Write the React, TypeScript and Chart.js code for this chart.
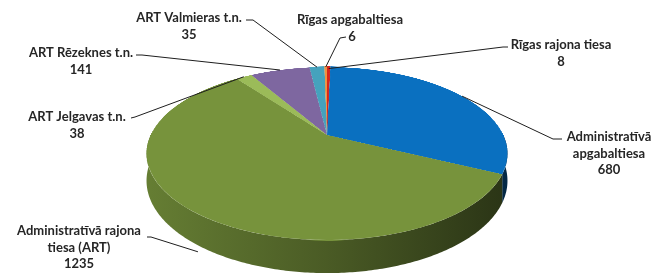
import React, { useEffect, useRef } from "react";
import { Chart, registerables } from "chart.js";

Chart.register(...registerables);

const categories = [
  "Rīgas rajona tiesa",
  "Administratīvā apgabaltiesa",
  "Administratīvā rajona tiesa (ART)",
  "ART Jelgavas t.n.",
  "ART Rēzeknes t.n.",
  "ART Valmieras t.n.",
  "Rīgas apgabaltiesa",
];
const values = [8, 680, 1235, 38, 141, 35, 6];
const labelLines = [
  ["Rīgas rajona tiesa"],
  ["Administratīvā", "apgabaltiesa"],
  ["Administratīvā rajona", "tiesa (ART)"],
  ["ART Jelgavas t.n."],
  ["ART Rēzeknes t.n."],
  ["ART Valmieras t.n."],
  ["Rīgas apgabaltiesa"],
];
const colors = ["#D8241C", "#0A70C0", "#77933C", "#9BBB59", "#7E67A0", "#45A2BD", "#F0913E"];

// label layout: text centre x, first line y, line start (text side), elbow, anchor factor, anchor drop
const labelPos = [
  { x: 561, y: 45, sx: 508, sy: 47, ex: 503, ey: 47, f: 0.99, drop: 1 },
  { x: 609, y: 137, sx: 562, sy: 139, ex: 553, ey: 139, f: 1.0, drop: 0 },
  { x: 79, y: 231, sx: 147, sy: 237, ex: 151, ey: 237, f: 0.97, drop: 43 },
  { x: 77, y: 117, sx: 131, sy: 118, ex: 135, ey: 117, f: 1.0, drop: 0 },
  { x: 81, y: 53, sx: 136, sy: 55, ex: 142, ey: 55, f: 1.0, drop: 0 },
  { x: 189, y: 18, sx: 246, sy: 20, ex: 253, ey: 20, f: 1.0, drop: 0 },
  { x: 350, y: 20, sx: 346, sy: 37, ex: 340, ey: 38, f: 1.0, drop: 0 },
];

// perspective projection of the pie plane
const CX = 327;
const PP = 0.2139;
const PA = 53.67;
const PB = 135;
const RX0 = 176.3;
const D0 = 26;

function proj(u: number, v: number) {
  const d = 1 - PP * v;
  return { X: CX + (RX0 * u) / d, Y: (PA * v + PB) / d };
}
function invY(Y: number) {
  return (Y - PB) / (PA + PP * Y);
}

function shade(hex: string, k: number) {
  const n = parseInt(hex.slice(1), 16);
  const r = Math.round(((n >> 16) & 255) * k);
  const g = Math.round(((n >> 8) & 255) * k);
  const b = Math.round((n & 255) * k);
  return `rgb(${r},${g},${b})`;
}

const pie3d = {
  id: "pie3d",
  beforeDatasetsDraw(chart: any) {
    const meta = chart.getDatasetMeta(0);
    const ctx = chart.ctx;
    const first = meta.data[0];
    const x = first.x, y = first.y, R = first.outerRadius;

    // walls
    ctx.save();
    meta.data.forEach((arc: any, i: number) => {
      const s = Math.max(arc.startAngle, 0);
      const e = Math.min(arc.endAngle, Math.PI);
      if (e <= s) return;
      const L = proj(-1, 0).X, Rr = proj(1, 0).X;
      const grad = ctx.createLinearGradient(L, 0, Rr, 0);
      grad.addColorStop(0, shade(colors[i], 0.85));
      grad.addColorStop(0.5, shade(colors[i], 0.62));
      grad.addColorStop(1, shade(colors[i], 0.36));
      const n = Math.max(4, Math.ceil((e - s) * 80));
      ctx.beginPath();
      for (let k = 0; k <= n; k++) {
        const t = s + ((e - s) * k) / n;
        const p = proj(Math.cos(t), Math.sin(t));
        if (k === 0) ctx.moveTo(p.X, p.Y);
        else ctx.lineTo(p.X, p.Y);
      }
      for (let k = n; k >= 0; k--) {
        const t = s + ((e - s) * k) / n;
        const v = Math.sin(t);
        const p = proj(Math.cos(t), v);
        ctx.lineTo(p.X, p.Y + D0 / (1 - PP * v));
      }
      ctx.closePath();
      ctx.fillStyle = grad;
      ctx.fill();
    });
    ctx.restore();

    // top face: render arcs flat offscreen, then warp row by row
    const K = 2;
    const off = document.createElement("canvas");
    off.width = Math.ceil(2 * R * K);
    off.height = Math.ceil(2 * R * K);
    const oc = off.getContext("2d")!;
    oc.setTransform(K, 0, 0, K, 0, 0);
    oc.translate(R - x, R - y);
    meta.data.forEach((arc: any) => arc.draw(oc));

    ctx.save();
    ctx.imageSmoothingEnabled = true;
    const yTop = Math.floor(proj(0, -1).Y);
    const yBot = Math.ceil(proj(0, 1).Y);
    for (let Y = yTop; Y < yBot; Y++) {
      let v0 = invY(Y), v1 = invY(Y + 1);
      v0 = Math.max(-1, Math.min(1, v0));
      v1 = Math.max(-1, Math.min(1, v1));
      if (v1 <= v0) continue;
      const vm = (v0 + v1) / 2;
      const half = RX0 / (1 - PP * vm);
      const sy = (1 + v0) * R * K;
      const sh = (v1 - v0) * R * K;
      ctx.drawImage(off, 0, sy, off.width, sh, CX - half, Y, 2 * half, 1);
    }
    ctx.restore();
    return false;
  },
  afterDraw(chart: any) {
    const meta = chart.getDatasetMeta(0);
    const ctx = chart.ctx;
    ctx.save();
    ctx.strokeStyle = "#1e1e1e";
    ctx.lineWidth = 1;
    meta.data.forEach((arc: any, i: number) => {
      const p = labelPos[i];
      const th = (arc.startAngle + arc.endAngle) / 2;
      const a = proj(p.f * Math.cos(th), p.f * Math.sin(th));
      ctx.beginPath();
      ctx.moveTo(p.sx, p.sy);
      ctx.lineTo(p.ex, p.ey);
      ctx.lineTo(a.X, a.Y + p.drop);
      ctx.stroke();
    });
    ctx.fillStyle = "#262626";
    ctx.font = "bold 13px Lato";
    ctx.textAlign = "center";
    ctx.textBaseline = "middle";
    labelLines.forEach((lines, i) => {
      const p = labelPos[i];
      const all = [...lines, String(values[i])];
      all.forEach((t, j) => {
        let tx = p.x;
        if (i === 6 && j === 1) tx = 352;
        ctx.fillText(t, tx, p.y + j * 16.5);
      });
    });
    ctx.restore();
  },
};

export default function App() {
  const ref = useRef<HTMLCanvasElement>(null);
  useEffect(() => {
    document.body.style.margin = "0";
    const chart = new Chart(ref.current!, {
      type: "pie",
      data: {
        labels: categories,
        datasets: [
          {
            data: values,
            backgroundColor: colors,
            borderWidth: 0,
          },
        ],
      },
      options: {
        responsive: false,
        animation: false,
        layout: { padding: 0 },
        plugins: { legend: { display: false }, tooltip: { enabled: false } },
      },
      plugins: [pie3d],
    });
    return () => chart.destroy();
  }, []);
  return (
    <div style={{ width: 654, height: 275, background: "#fff" }}>
      <canvas ref={ref} width={654} height={275} />
    </div>
  );
}
